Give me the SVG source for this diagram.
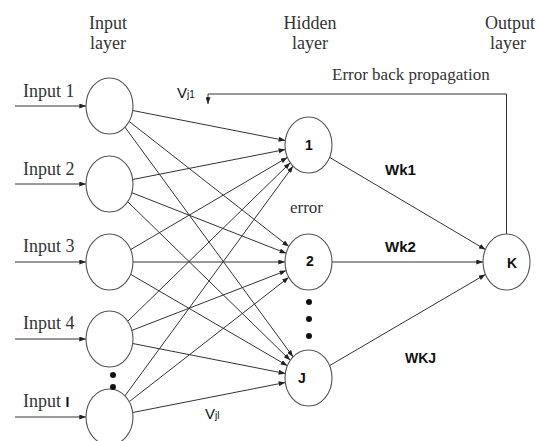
<svg xmlns="http://www.w3.org/2000/svg" width="539" height="441" viewBox="0 0 539 441">
<style>
.node{fill:#fff;stroke:#555;stroke-width:1.1}
.edge{fill:none;stroke:#333;stroke-width:1}
.serif{font-family:"Liberation Serif","DejaVu Serif",serif;fill:#333}
.hdr{font-size:18px;text-anchor:middle}
.inp{font-size:18px}
.sans{font-family:"Liberation Sans","DejaVu Sans",sans-serif;fill:#111}
.lbl{font-size:14px;font-weight:bold}
.wlbl{font-size:15px;font-weight:bold}
.dot{fill:#111}
</style>
<defs>
<marker id="ah" viewBox="0 0 8 6" refX="8" refY="3" markerWidth="7" markerHeight="5" markerUnits="userSpaceOnUse" orient="auto">
<path d="M0,0 L8,3 L0,6 z" fill="#222"/>
</marker>
</defs>
<rect width="539" height="441" fill="#fff"/>
<g id="headers" class="serif hdr">
<text x="108" y="29">Input</text>
<text x="108" y="49">layer</text>
<text x="310" y="29">Hidden</text>
<text x="310" y="49">layer</text>
<text x="510" y="29">Output</text>
<text x="508" y="49">layer</text>
</g>
<g id="connectors">
<g class="edge" marker-end="url(#ah)">
<line x1="15" y1="106" x2="86" y2="106"/>
<line x1="15" y1="184" x2="86" y2="184"/>
<line x1="15" y1="262" x2="86" y2="262"/>
<line x1="15" y1="339" x2="86" y2="339"/>
<line x1="15" y1="417" x2="86" y2="417"/>
<line x1="132.7" y1="110.5" x2="285.3" y2="140.5"/>
<line x1="129.1" y1="121.4" x2="288.9" y2="246.6"/>
<line x1="124.9" y1="127.1" x2="293.1" y2="356.9"/>
<line x1="132.7" y1="179.5" x2="285.3" y2="149.5"/>
<line x1="131.8" y1="192.7" x2="286.2" y2="253.3"/>
<line x1="127.7" y1="201.7" x2="290.3" y2="360.3"/>
<line x1="130.6" y1="249.6" x2="287.4" y2="157.4"/>
<line x1="133" y1="262" x2="285" y2="262"/>
<line x1="130.6" y1="274.3" x2="287.4" y2="365.7"/>
<line x1="127.7" y1="321.3" x2="290.3" y2="162.7"/>
<line x1="131.9" y1="330.4" x2="286.2" y2="270.6"/>
<line x1="132.7" y1="343.5" x2="285.3" y2="373.5"/>
<line x1="124.9" y1="395.9" x2="293.1" y2="166.1"/>
<line x1="129.2" y1="401.7" x2="288.8" y2="277.3"/>
<line x1="132.7" y1="412.5" x2="285.3" y2="382.5"/>
<line x1="329.6" y1="157.4" x2="485.5" y2="249.6"/>
<line x1="332" y1="262" x2="483" y2="262"/>
<line x1="329.6" y1="365.6" x2="485.4" y2="274.4"/>
<polyline points="506.5,234 506.5,94 208,94 208,104"/>
</g>
</g>
<g id="input1"><ellipse class="node" cx="109.5" cy="106" rx="23.5" ry="28"/><text class="serif inp" x="23" y="97">Input 1</text></g>
<g id="input2"><ellipse class="node" cx="109.5" cy="184" rx="23.5" ry="28"/><text class="serif inp" x="23" y="175">Input 2</text></g>
<g id="input3"><ellipse class="node" cx="109.5" cy="262" rx="23.5" ry="28"/><text class="serif inp" x="23" y="252">Input 3</text></g>
<g id="input4"><ellipse class="node" cx="109.5" cy="339" rx="23.5" ry="28"/><text class="serif inp" x="23" y="329">Input 4</text></g>
<g id="inputI"><ellipse class="node" cx="109.5" cy="417" rx="23.5" ry="28"/><text class="serif inp" x="23" y="407">Input <tspan class="sans" font-size="14" font-weight="bold">I</tspan></text></g>
<g id="input-dots"><circle class="dot" cx="113" cy="375" r="3"/><circle class="dot" cx="113" cy="387" r="3"/></g>
<g id="hidden1"><ellipse class="node" cx="308.5" cy="145" rx="23.5" ry="28"/><text class="sans lbl" x="309" y="150" text-anchor="middle">1</text></g>
<g id="hidden2"><ellipse class="node" cx="308.5" cy="262" rx="23.5" ry="28"/><text class="sans lbl" x="310" y="266" text-anchor="middle">2</text></g>
<g id="hiddenJ"><ellipse class="node" cx="308.5" cy="378" rx="23.5" ry="28"/><text class="sans lbl" x="302" y="383" text-anchor="middle">J</text></g>
<g id="hidden-dots"><circle class="dot" cx="309" cy="302" r="3"/><circle class="dot" cx="309" cy="319" r="3"/><circle class="dot" cx="309" cy="336" r="3"/></g>
<g id="outputK"><ellipse class="node" cx="506.5" cy="262" rx="23.5" ry="28"/><text class="sans lbl" x="512" y="268" text-anchor="middle">K</text></g>
<g id="labels">
<text class="serif" font-size="17" x="332" y="80">Error back propagation</text>
<text class="serif" font-size="17" x="290" y="213">error</text>
<text class="sans" font-size="15" x="177" y="98">V<tspan font-size="10">j1</tspan></text>
<text class="sans" font-size="15" x="205" y="419">V<tspan font-size="10">jl</tspan></text>
<text class="sans wlbl" x="385" y="175">Wk1</text>
<text class="sans wlbl" x="385" y="252">Wk2</text>
<text class="sans lbl" x="405" y="363">WKJ</text>
</g>
</svg>
